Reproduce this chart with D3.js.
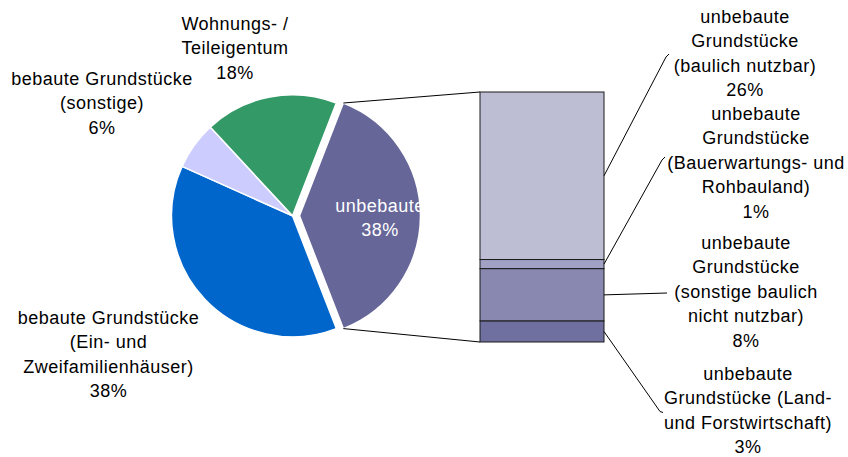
<!DOCTYPE html>
<html>
<head>
<meta charset="utf-8">
<script src="https://cdn.jsdelivr.net/npm/d3@7"></script>
<style>
  body { margin: 0; background: #fff; }
  svg text { font-family: "Liberation Sans", Arial, sans-serif; font-size: 18px; letter-spacing: 0.5px; }
</style>
</head>
<body>
<svg id="canvas" width="848" height="457"></svg>
<script>
// Kreis: Anteile in %
const pieNames = ["unbebaute Grundstücke", "bebaute Grundstücke (Ein- und Zweifamilienhäuser)", "bebaute Grundstücke (sonstige)", "Wohnungs- / Teileigentum"];
const pieValues = [38.2, 37.6, 6.4, 17.8];
const pieColors = ["#666699", "#0066cc", "#ccccff", "#339966"];
const pieLabelLines = [
    ["unbebaute"],
    ["bebaute Grundstücke", "(Ein- und", "Zweifamilienhäuser)"],
    ["bebaute Grundstücke", "(sonstige)"],
    ["Wohnungs- /", "Teileigentum"]
];

// Balken: Aufteilung der unbebauten Grundstücke
const barNames = ["baulich nutzbar", "Bauerwartungs- und Rohbauland", "sonstige baulich nicht nutzbar", "Land- und Forstwirtschaft"];
const barValues = [25.6, 1.4, 8.0, 3.2];
const barColors = ["#bdbed4", "#a1a1c5", "#8888b0", "#7070a0"];
const barLabelLines = [
    ["unbebaute", "Grundstücke", "(baulich nutzbar)"],
    ["unbebaute", "Grundstücke", "(Bauerwartungs- und", "Rohbauland)"],
    ["unbebaute", "Grundstücke", "(sonstige baulich", "nicht nutzbar)"],
    ["unbebaute", "Grundstücke (Land-", "und Forstwirtschaft)"]
];

const svg = d3.select("#canvas");
const pct = v => Math.round(v) + "%";
const lineH = 24.4;

// Layout
const cx = 292.5, cy = 215.8, radius = 121, explode = 7;
const barX0 = 480, barX1 = 604, barY0 = 92, barY1 = 342;

const pieLabelPos = [
    { x: 380, y: 211.7, fill: "#fff" },
    { x: 108.5, y: 324, fill: "#000" },
    { x: 102, y: 85, fill: "#000" },
    { x: 235, y: 30, fill: "#000" }
];
const barLabelPos = [
    { x: 745, y: 23, lx: 666, ly: 57, hx: 669, hy: 54 },
    { x: 756, y: 120, lx: 662, ly: 160, hx: 665, hy: 157 },
    { x: 746, y: 249, lx: 667, ly: 293, hx: 667, hy: 293 },
    { x: 748, y: 380, lx: 660, ly: 411.5, hx: 663, hy: 412.5 }
];

const total = d3.sum(pieValues);
const splitAngle = pieValues[0] / total * 2 * Math.PI;
const start = Math.PI / 2 - splitAngle / 2;

const pie = d3.pie().sort(null).value(d => d).startAngle(start).endAngle(start + 2 * Math.PI);
const arcs = pie(pieValues);
const arc = d3.arc().innerRadius(0).outerRadius(radius);

const offsetOf = d => {
    if (d.index !== 0) return [0, 0];
    const mid = (d.startAngle + d.endAngle) / 2;
    return [Math.sin(mid) * explode, -Math.cos(mid) * explode];
};

const pieG = svg.append("g").attr("transform", `translate(${cx},${cy})`);

pieG.selectAll("path")
    .data(arcs)
    .join("path")
    .attr("d", arc)
    .attr("transform", d => `translate(${offsetOf(d)})`)
    .attr("fill", (d, i) => pieColors[i])
    .attr("stroke", "#fff")
    .attr("stroke-width", 1.5)
    .attr("stroke-linejoin", "round");

// Balken
const barSum = d3.sum(barValues);
const y = d3.scaleLinear().domain([0, barSum]).range([barY0, barY1]);
const cum = d3.cumsum(barValues);
const segs = barValues.map((v, i) => ({ v, a: cum[i] - v, b: cum[i] }));

// Verbindungslinien Kreis -> Balken
const sl = arcs[0];
const off = offsetOf(sl);
const px = a => cx + off[0] + radius * Math.sin(a);
const py = a => cy + off[1] - radius * Math.cos(a);
svg.append("line")
    .attr("x1", px(sl.startAngle)).attr("y1", py(sl.startAngle))
    .attr("x2", barX0).attr("y2", y(0))
    .attr("stroke", "#000").attr("stroke-width", 1);
svg.append("line")
    .attr("x1", px(sl.endAngle)).attr("y1", py(sl.endAngle))
    .attr("x2", barX0).attr("y2", y(barSum))
    .attr("stroke", "#000").attr("stroke-width", 1);

svg.append("g")
    .selectAll("rect")
    .data(segs)
    .join("rect")
    .attr("x", barX0)
    .attr("y", d => y(d.a))
    .attr("width", barX1 - barX0)
    .attr("height", d => y(d.b) - y(d.a))
    .attr("fill", (d, i) => barColors[i])
    .attr("stroke", "#1a1a1a")
    .attr("stroke-width", 1);

// Führungslinien
segs.forEach((d, i) => {
    const p = barLabelPos[i];
    svg.append("polyline")
        .attr("points", [[barX1, y((d.a + d.b) / 2)], [p.lx, p.ly], [p.hx, p.hy]].join(" "))
        .attr("fill", "none")
        .attr("stroke", "#000")
        .attr("stroke-width", 1);
});

function drawLabel(lines, pos, fill) {
    const t = svg.append("text")
        .attr("text-anchor", "middle")
        .attr("fill", fill);
    lines.forEach((s, k) => {
        t.append("tspan").attr("x", pos.x).attr("y", pos.y + k * lineH).text(s);
    });
}

arcs.forEach((d, i) => {
    drawLabel(pieLabelLines[i].concat(pct(pieValues[i])), pieLabelPos[i], pieLabelPos[i].fill);
});

barValues.forEach((v, i) => {
    drawLabel(barLabelLines[i].concat(pct(v)), barLabelPos[i], "#000");
});
</script>
</body>
</html>
